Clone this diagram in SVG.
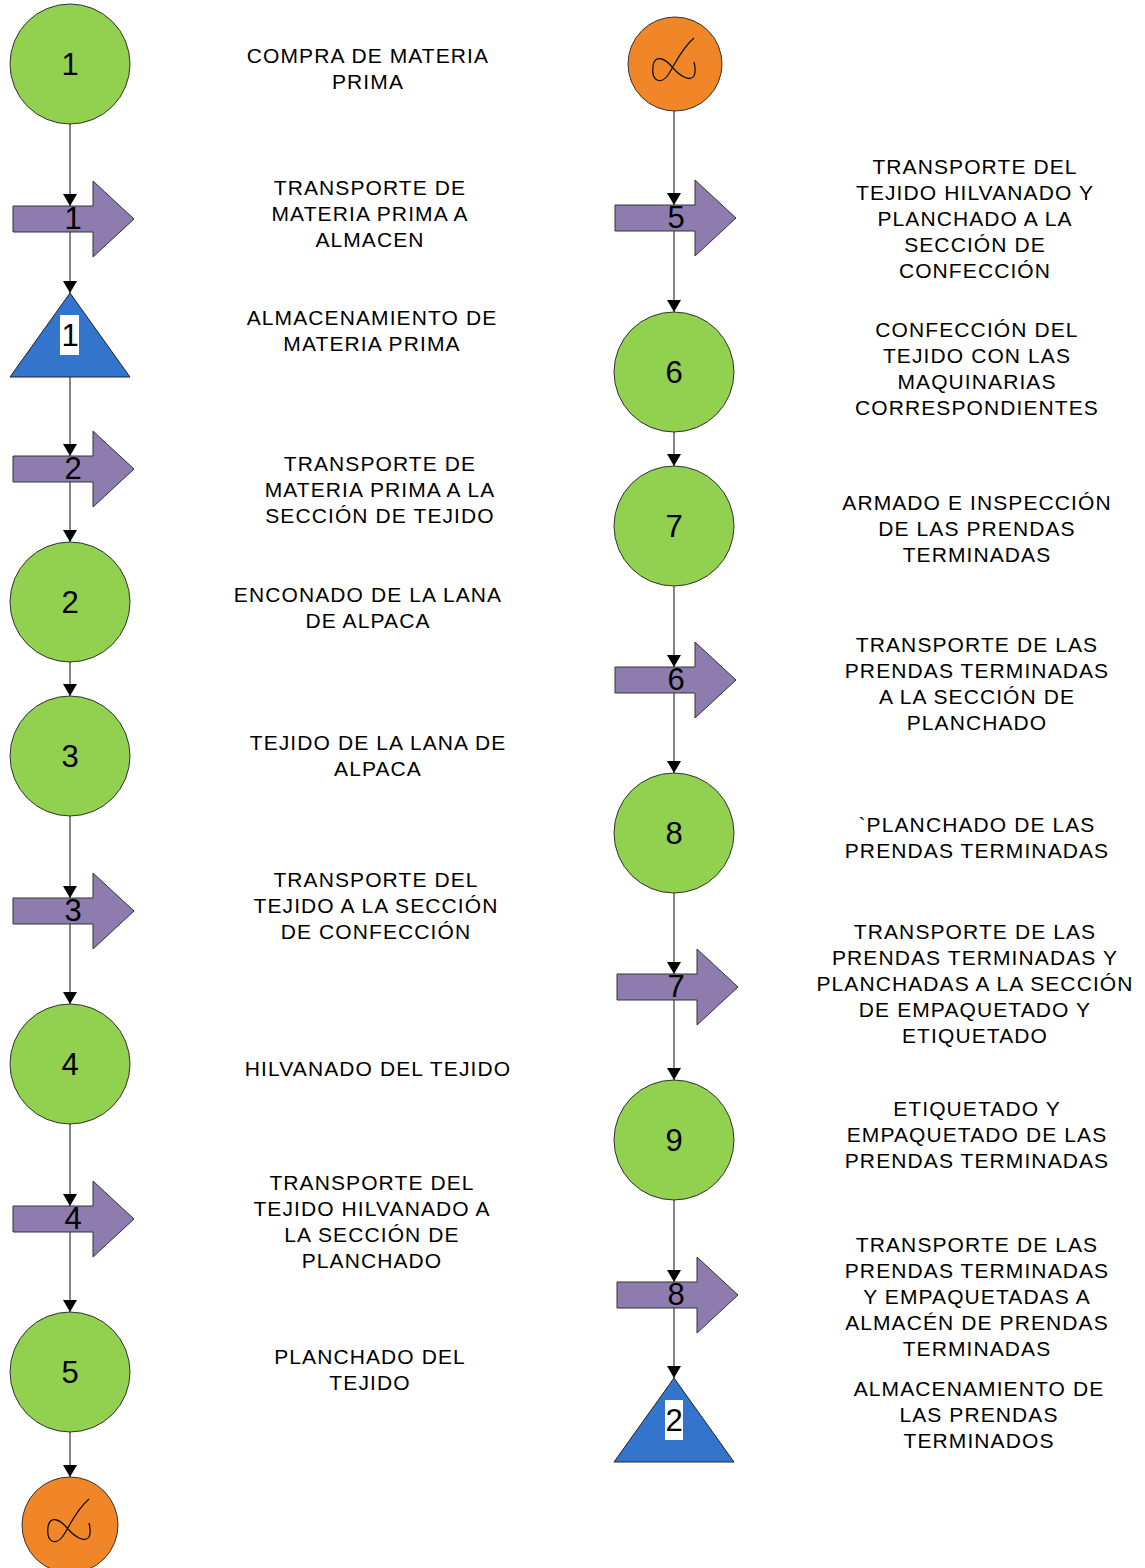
<svg xmlns="http://www.w3.org/2000/svg" width="1145" height="1568" viewBox="0 0 1145 1568">
<style>
.op{fill:#92D050;stroke:#333;stroke-width:1}
.tr{fill:#8E7CAF;stroke:#333;stroke-width:1}
.st{fill:#3374CC;stroke:#222;stroke-width:1}
.cn{fill:#F08628;stroke:#333;stroke-width:1}
.loop{fill:none;stroke:#111;stroke-width:1.3}
.num{font-family:"Liberation Sans",Arial,sans-serif;font-size:31px;fill:#000;text-anchor:middle;dominant-baseline:central}
.lbl{font-family:"Liberation Sans",Arial,sans-serif;font-size:21px;letter-spacing:1.1px;fill:#000;text-anchor:middle}
.ln{stroke:#333;stroke-width:1.2;fill:none;marker-end:url(#ah)}
.wb{fill:#fff}
</style>
<defs>
<marker id="ah" viewBox="0 0 12 14" refX="12" refY="7" markerUnits="userSpaceOnUse" markerWidth="12" markerHeight="14" orient="auto">
<path d="M0,0 L12,7 L0,14 Z" fill="#000"/>
</marker>
<path id="arrowShape" d="M0,-13 H80 V-38 L121,0 L80,38 V13 H0 Z"/>
<path id="loopShape" d="M19,-26 C5,-14 0,1 -7,11 C-13,20 -24,19 -22,2 C-20,-10 -10,-6 -2,4 C5,12 15,18 19,12 C21,8 20,2 19,-2"/>
</defs>

<g id="connectors">
<line class="ln" x1="70" y1="124" x2="70" y2="206"/>
<line class="ln" x1="70" y1="232" x2="70" y2="293"/>
<line class="ln" x1="70" y1="377" x2="70" y2="456"/>
<line class="ln" x1="70" y1="482" x2="70" y2="542"/>
<line class="ln" x1="70" y1="662" x2="70" y2="696"/>
<line class="ln" x1="70" y1="816" x2="70" y2="898"/>
<line class="ln" x1="70" y1="924" x2="70" y2="1004"/>
<line class="ln" x1="70" y1="1124" x2="70" y2="1206"/>
<line class="ln" x1="70" y1="1232" x2="70" y2="1312"/>
<line class="ln" x1="70" y1="1432" x2="70" y2="1477"/>
<line class="ln" x1="674" y1="111" x2="674" y2="205"/>
<line class="ln" x1="674" y1="231" x2="674" y2="312"/>
<line class="ln" x1="674" y1="432" x2="674" y2="466"/>
<line class="ln" x1="674" y1="586" x2="674" y2="667"/>
<line class="ln" x1="674" y1="693" x2="674" y2="773"/>
<line class="ln" x1="674" y1="893" x2="674" y2="974"/>
<line class="ln" x1="674" y1="1000" x2="674" y2="1080"/>
<line class="ln" x1="674" y1="1200" x2="674" y2="1282"/>
<line class="ln" x1="674" y1="1308" x2="674" y2="1378"/>
</g>

<!-- Left column -->
<g id="op1"><circle class="op" cx="70" cy="64" r="60"/><text class="num" x="70" y="64">1</text></g>
<g id="tr1"><use href="#arrowShape" class="tr" transform="translate(13,219)"/><text class="num" x="73" y="218">1</text></g>
<g id="st1"><path class="st" d="M70,293 L130,377 L10,377 Z"/><rect class="wb" x="60" y="315" width="19" height="40"/><text class="num" x="70" y="335">1</text></g>
<g id="tr2"><use href="#arrowShape" class="tr" transform="translate(13,469)"/><text class="num" x="73" y="468">2</text></g>
<g id="op2"><circle class="op" cx="70" cy="602" r="60"/><text class="num" x="70" y="602">2</text></g>
<g id="op3"><circle class="op" cx="70" cy="756" r="60"/><text class="num" x="70" y="756">3</text></g>
<g id="tr3"><use href="#arrowShape" class="tr" transform="translate(13,911)"/><text class="num" x="73" y="910">3</text></g>
<g id="op4"><circle class="op" cx="70" cy="1064" r="60"/><text class="num" x="70" y="1064">4</text></g>
<g id="tr4"><use href="#arrowShape" class="tr" transform="translate(13,1219)"/><text class="num" x="73" y="1218">4</text></g>
<g id="op5"><circle class="op" cx="70" cy="1372" r="60"/><text class="num" x="70" y="1372">5</text></g>
<g id="cnA1"><circle class="cn" cx="70" cy="1525" r="48"/><use href="#loopShape" class="loop" transform="translate(70,1525)"/></g>

<!-- Right column -->
<g id="cnA2"><circle class="cn" cx="675" cy="64" r="47"/><use href="#loopShape" class="loop" transform="translate(675,64)"/></g>
<g id="tr5"><use href="#arrowShape" class="tr" transform="translate(615,218)"/><text class="num" x="676" y="217">5</text></g>
<g id="op6"><circle class="op" cx="674" cy="372" r="60"/><text class="num" x="674" y="372">6</text></g>
<g id="op7"><circle class="op" cx="674" cy="526" r="60"/><text class="num" x="674" y="526">7</text></g>
<g id="tr6"><use href="#arrowShape" class="tr" transform="translate(615,680)"/><text class="num" x="676" y="679">6</text></g>
<g id="op8"><circle class="op" cx="674" cy="833" r="60"/><text class="num" x="674" y="833">8</text></g>
<g id="tr7"><use href="#arrowShape" class="tr" transform="translate(617,987)"/><text class="num" x="676" y="986">7</text></g>
<g id="op9"><circle class="op" cx="674" cy="1140" r="60"/><text class="num" x="674" y="1140">9</text></g>
<g id="tr8"><use href="#arrowShape" class="tr" transform="translate(617,1295)"/><text class="num" x="676" y="1294">8</text></g>
<g id="st2"><path class="st" d="M674,1378 L734,1462 L614,1462 Z"/><rect class="wb" x="665" y="1400" width="18" height="40"/><text class="num" x="674" y="1420">2</text></g>

<!-- Labels -->
<g id="labels">
<text class="lbl" x="368" y="63">COMPRA DE MATERIA<tspan x="368" dy="26">PRIMA</tspan></text>
<text class="lbl" x="370" y="195">TRANSPORTE DE<tspan x="370" dy="26">MATERIA PRIMA A</tspan><tspan x="370" dy="26">ALMACEN</tspan></text>
<text class="lbl" x="372" y="325">ALMACENAMIENTO DE<tspan x="372" dy="26">MATERIA PRIMA</tspan></text>
<text class="lbl" x="380" y="471">TRANSPORTE DE<tspan x="380" dy="26">MATERIA PRIMA A LA</tspan><tspan x="380" dy="26">SECCIÓN DE TEJIDO</tspan></text>
<text class="lbl" x="368" y="602">ENCONADO DE LA LANA<tspan x="368" dy="26">DE ALPACA</tspan></text>
<text class="lbl" x="378" y="750">TEJIDO DE LA LANA DE<tspan x="378" dy="26">ALPACA</tspan></text>
<text class="lbl" x="376" y="887">TRANSPORTE DEL<tspan x="376" dy="26">TEJIDO A LA SECCIÓN</tspan><tspan x="376" dy="26">DE CONFECCIÓN</tspan></text>
<text class="lbl" x="378" y="1076">HILVANADO DEL TEJIDO</text>
<text class="lbl" x="372" y="1190">TRANSPORTE DEL<tspan x="372" dy="26">TEJIDO HILVANADO A</tspan><tspan x="372" dy="26">LA SECCIÓN DE</tspan><tspan x="372" dy="26">PLANCHADO</tspan></text>
<text class="lbl" x="370" y="1364">PLANCHADO DEL<tspan x="370" dy="26">TEJIDO</tspan></text>

<text class="lbl" x="975" y="174">TRANSPORTE DEL<tspan x="975" dy="26">TEJIDO HILVANADO Y</tspan><tspan x="975" dy="26">PLANCHADO A LA</tspan><tspan x="975" dy="26">SECCIÓN DE</tspan><tspan x="975" dy="26">CONFECCIÓN</tspan></text>
<text class="lbl" x="977" y="337">CONFECCIÓN DEL<tspan x="977" dy="26">TEJIDO CON LAS</tspan><tspan x="977" dy="26">MAQUINARIAS</tspan><tspan x="977" dy="26">CORRESPONDIENTES</tspan></text>
<text class="lbl" x="977" y="510">ARMADO E INSPECCIÓN<tspan x="977" dy="26">DE LAS PRENDAS</tspan><tspan x="977" dy="26">TERMINADAS</tspan></text>
<text class="lbl" x="977" y="652">TRANSPORTE DE LAS<tspan x="977" dy="26">PRENDAS TERMINADAS</tspan><tspan x="977" dy="26">A LA SECCIÓN DE</tspan><tspan x="977" dy="26">PLANCHADO</tspan></text>
<text class="lbl" x="977" y="832">`PLANCHADO DE LAS<tspan x="977" dy="26">PRENDAS TERMINADAS</tspan></text>
<text class="lbl" x="975" y="939">TRANSPORTE DE LAS<tspan x="975" dy="26">PRENDAS TERMINADAS Y</tspan><tspan x="975" dy="26">PLANCHADAS A LA SECCIÓN</tspan><tspan x="975" dy="26">DE EMPAQUETADO Y</tspan><tspan x="975" dy="26">ETIQUETADO</tspan></text>
<text class="lbl" x="977" y="1116">ETIQUETADO Y<tspan x="977" dy="26">EMPAQUETADO DE LAS</tspan><tspan x="977" dy="26">PRENDAS TERMINADAS</tspan></text>
<text class="lbl" x="977" y="1252">TRANSPORTE DE LAS<tspan x="977" dy="26">PRENDAS TERMINADAS</tspan><tspan x="977" dy="26">Y EMPAQUETADAS A</tspan><tspan x="977" dy="26">ALMACÉN DE PRENDAS</tspan><tspan x="977" dy="26">TERMINADAS</tspan></text>
<text class="lbl" x="979" y="1396">ALMACENAMIENTO DE<tspan x="979" dy="26">LAS PRENDAS</tspan><tspan x="979" dy="26">TERMINADOS</tspan></text>
</g>
</svg>
